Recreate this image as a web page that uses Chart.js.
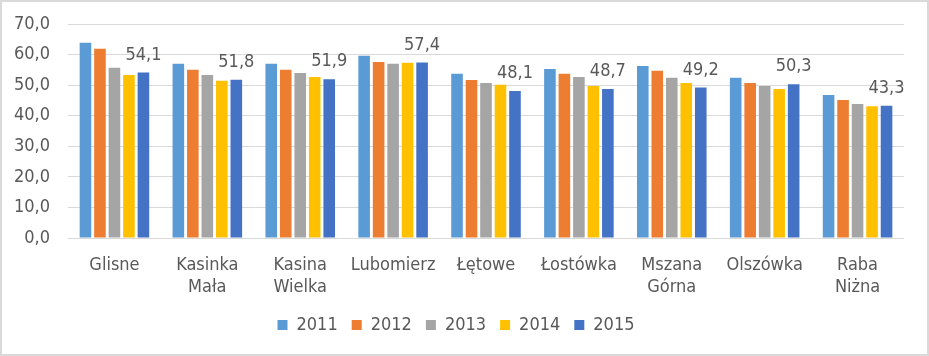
<!DOCTYPE html>
<html>
<head>
<meta charset="utf-8">
<script src="https://cdn.jsdelivr.net/npm/chart.js@4"></script>
<style>
html,body{margin:0;padding:0;background:#fff;}
#wrap{position:relative;width:929px;height:356px;box-sizing:border-box;border:2px solid #d9d9d9;}
canvas{display:block;}
</style>
</head>
<body>
<div id="wrap"><canvas id="c" width="925" height="352"></canvas></div>
<script>
const categories = ["Glisne", ["Kasinka","Mała"], ["Kasina","Wielka"], "Lubomierz", "Łętowe", "Łostówka", ["Mszana","Górna"], "Olszówka", ["Raba","Niżna"]];
const years = ["2011","2012","2013","2014","2015"];
const v2011 = [63.9, 57.0, 57.0, 59.6, 53.7, 55.3, 56.3, 52.4, 46.8];
const v2012 = [61.9, 55.0, 55.0, 57.6, 51.7, 53.7, 54.7, 50.7, 45.1];
const v2013 = [55.7, 53.3, 54.0, 57.0, 50.7, 52.7, 52.4, 49.7, 43.8];
const v2014 = [53.3, 51.4, 52.7, 57.3, 50.1, 49.7, 50.7, 48.7, 43.1];
const v2015 = [54.1, 51.8, 51.9, 57.4, 48.1, 48.7, 49.2, 50.3, 43.3];
const yTicks = [0,10,20,30,40,50,60,70];
const colors = ["#5B9BD5","#ED7D31","#A5A5A5","#FFC000","#4472C4"];
const series = [v2011, v2012, v2013, v2014, v2015];

const FONT = "'DejaVu Sans Condensed', 'Liberation Sans Narrow', 'DejaVu Sans', sans-serif";
const FS = 18;
const TXT = "#595959";
const fmt = v => v.toFixed(1).replace('.', ',');

const labelPlugin = {
  id: 'lastLabels',
  afterDatasetsDraw(chart) {
    const ctx = chart.ctx;
    const idx = chart.data.datasets.length - 1;
    const meta = chart.getDatasetMeta(idx);
    ctx.save();
    ctx.font = FS + "px " + FONT;
    ctx.fillStyle = TXT;
    ctx.textAlign = 'center';
    ctx.textBaseline = 'alphabetic';
    meta.data.forEach((bar, i) => {
      ctx.fillText(fmt(chart.data.datasets[idx].data[i]), bar.x, bar.y - 13);
    });
    ctx.restore();
  }
};

new Chart(document.getElementById('c'), {
  type: 'bar',
  data: {
    labels: categories,
    datasets: years.map((y, i) => ({
      label: y,
      data: series[i],
      backgroundColor: colors[i],
      borderWidth: 0,
      categoryPercentage: 0.78,
      barPercentage: 0.8
    }))
  },
  options: {
    responsive: false,
    animation: false,
    devicePixelRatio: 1,
    layout: { padding: { left: 6, right: 23, top: 22, bottom: 10 } },
    plugins: {
      legend: {
        position: 'bottom',
        labels: {
          boxWidth: 10, boxHeight: 10, padding: 14,
          color: TXT, font: { size: FS, family: FONT }
        }
      },
      tooltip: { enabled: false }
    },
    scales: {
      x: {
        afterFit(scale) { scale.height = 64; },
        grid: { display: false, drawTicks: false },
        border: { display: false },
        ticks: { color: TXT, font: { size: FS, family: FONT, lineHeight: 1.18 }, padding: 17, maxRotation: 0, autoSkip: false }
      },
      y: {
        min: 0, max: 70,
        afterBuildTicks(scale) { scale.ticks = yTicks.map(v => ({ value: v })); },
        afterFit(scale) { scale.width = 60; },
        grid: { color: "#d9d9d9", drawTicks: true, tickLength: 18, tickColor: "rgba(0,0,0,0)", lineWidth: 1 },
        border: { display: false },
        ticks: { color: TXT, font: { size: FS, family: FONT }, padding: 0, callback: v => fmt(v) }
      }
    }
  },
  plugins: [labelPlugin]
});
</script>
</body>
</html>
